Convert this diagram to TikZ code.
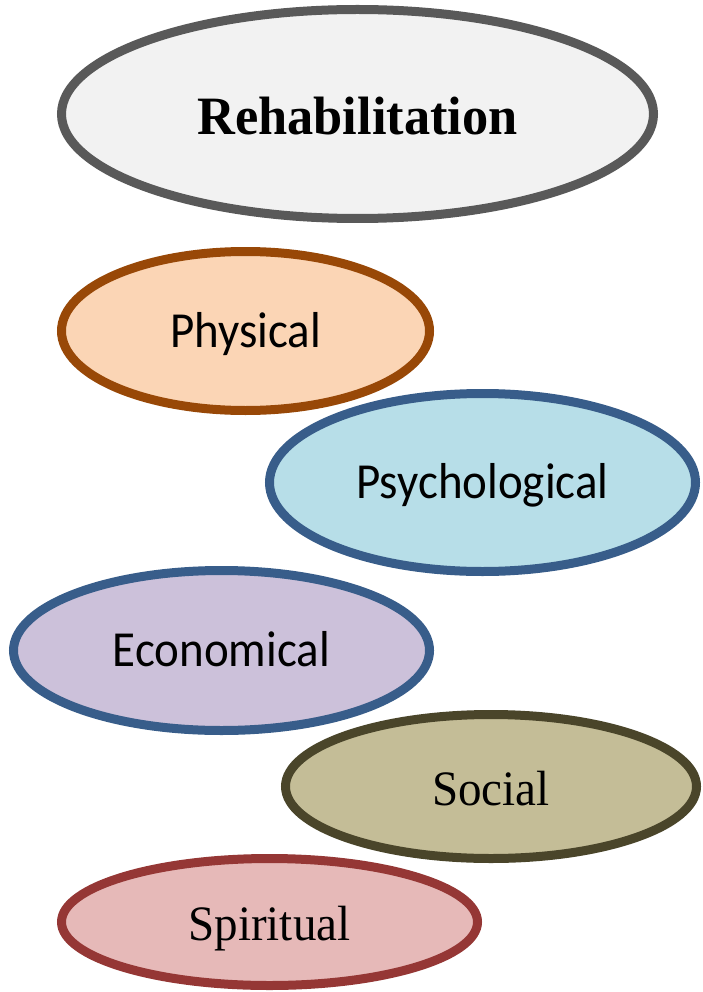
\documentclass[tikz,border=0pt]{standalone}
\usepackage{fontspec}
\setmainfont{Liberation Serif}
\newfontfamily\calibrifont[FakeStretch=0.93]{Carlito}
\newfontfamily\seriffont[FakeStretch=0.95]{Liberation Serif}
\newfontfamily\titlefont[FakeStretch=0.97]{Liberation Serif}
\usetikzlibrary{shapes.geometric}
\definecolor{rehabD}{HTML}{595959}
\definecolor{rehabF}{HTML}{F2F2F2}
\definecolor{physD}{HTML}{984807}
\definecolor{physF}{HTML}{FBD5B5}
\definecolor{psyD}{HTML}{385D8A}
\definecolor{psyF}{HTML}{B7DEE8}
\definecolor{ecoF}{HTML}{CCC1DA}
\definecolor{socD}{HTML}{4A452A}
\definecolor{socF}{HTML}{C4BD97}
\definecolor{spiD}{HTML}{953735}
\definecolor{spiF}{HTML}{E6B9B8}
\tikzset{
  oval/.style={ellipse, line width=9pt, inner sep=0pt, outer sep=0pt, text=black},
  sanslabel/.style={font=\calibrifont\fontsize{50.5}{54}\selectfont, text height=32pt, text depth=0pt},
  seriflabel/.style={font=\seriffont\fontsize{49.5}{54}\selectfont, text height=37pt, text depth=0pt},
  titlelabel/.style={font=\titlefont\bfseries\fontsize{54}{58}\selectfont, text height=42pt, text depth=0pt}
}
\begin{document}
\begin{tikzpicture}[x=1pt,y=-1pt]
\useasboundingbox (0,0) rectangle (702,992);
\node[oval, titlelabel, draw=rehabD, fill=rehabF, minimum width=592pt, minimum height=209pt] (rehab) at (357.5,114) {Rehabilitation};
\node[oval, sanslabel, draw=physD, fill=physF, minimum width=368pt, minimum height=159pt] (phys) at (245.5,331) {Physical};
\node[oval, sanslabel, draw=psyD, fill=psyF, minimum width=426pt, minimum height=178pt] (psy) at (482.5,482.5) {Psychological};
\node[oval, sanslabel, draw=psyD, fill=ecoF, minimum width=416pt, minimum height=160pt] (eco) at (221.5,650.5) {Economical};
\node[oval, seriflabel, draw=socD, fill=socF, minimum width=411pt, minimum height=144pt] (soc) at (491,786.5) {Social};
\node[oval, seriflabel, draw=spiD, fill=spiF, minimum width=416pt, minimum height=127pt] (spi) at (269.5,922) {Spiritual};
\end{tikzpicture}
\end{document}
